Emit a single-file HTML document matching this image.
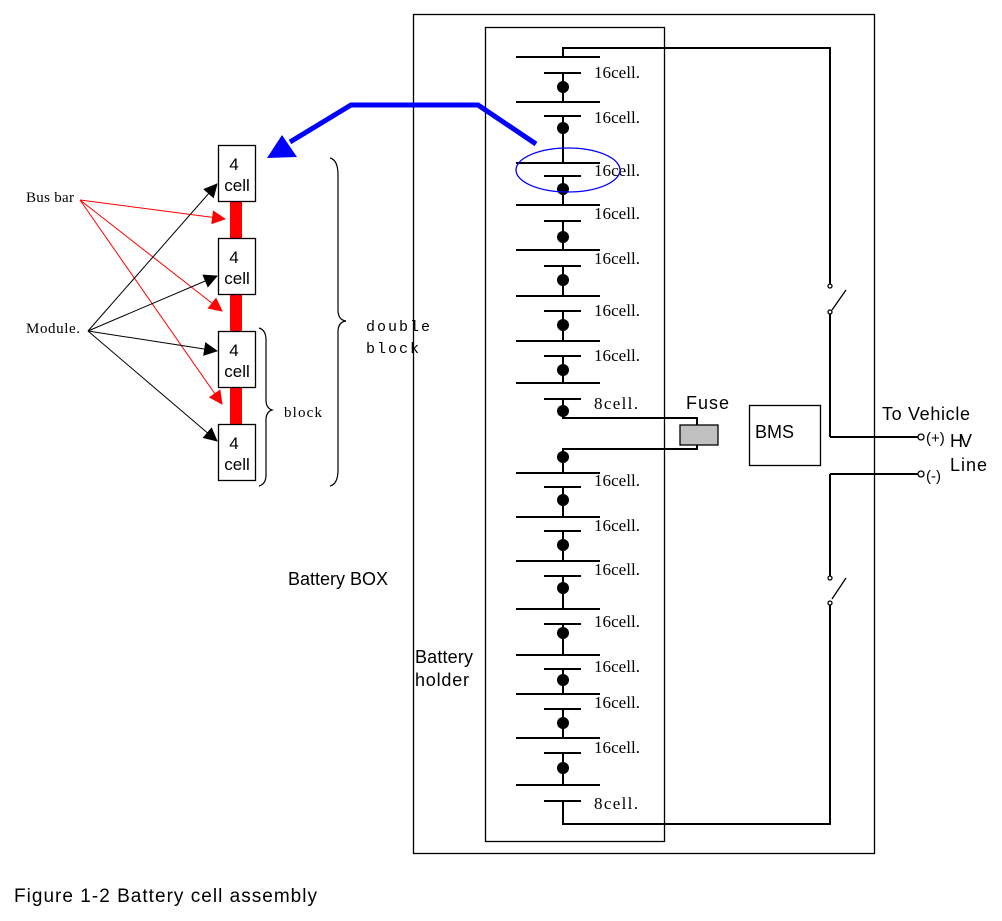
<!DOCTYPE html>
<html><head><style>
body{margin:0;background:#fff}
</style></head><body>
<svg width="1002" height="916" viewBox="0 0 1002 916" xmlns="http://www.w3.org/2000/svg" font-family="Liberation Serif,serif">
<defs>
<marker id="ab" markerWidth="14" markerHeight="14" refX="13" refY="7" orient="auto" markerUnits="userSpaceOnUse" viewBox="0 0 14 14"><path d="M0,0 L14,7 L0,14 z" fill="#000"/></marker>
<marker id="ar" markerWidth="14" markerHeight="14" refX="13" refY="7" orient="auto" markerUnits="userSpaceOnUse" viewBox="0 0 14 14"><path d="M0,0 L14,7 L0,14 z" fill="#f00"/></marker>
</defs>
<g fill="none" stroke="#000" stroke-width="1.3">
<rect x="413.5" y="14.5" width="461" height="839"/>
<rect x="485.5" y="27.5" width="179" height="814"/>
<rect x="749.5" y="405.5" width="71" height="60"/>
</g>
<g stroke="#000" stroke-width="2" fill="none">
<polyline points="563,57 563,48 830,48 830,288"/>
<line x1="830" y1="312" x2="830" y2="437"/>
<line x1="830" y1="437" x2="918" y2="437"/>
<line x1="830" y1="474" x2="918" y2="474"/>
<line x1="830" y1="474" x2="830" y2="578"/>
<polyline points="830,602 830,824 563,824 563,801"/>
<polyline points="563,411 563,418 697,418 697,425"/>
<polyline points="697,445 697,449 563,449 563,457"/>
</g>
<g stroke="#000" stroke-width="1.3" fill="none">
<line x1="832" y1="310" x2="846" y2="290"/>
<line x1="832" y1="599" x2="846" y2="578"/>
<circle cx="921" cy="437" r="3" fill="#fff"/>
<circle cx="921" cy="474" r="3" fill="#fff"/>
<circle cx="830" cy="286" r="2" fill="#fff"/><circle cx="830" cy="312" r="2" fill="#fff"/>
<circle cx="830" cy="578" r="2" fill="#fff"/><circle cx="830" cy="603" r="2" fill="#fff"/>
</g>
<rect x="680" y="425" width="38" height="20" fill="#c0c0c0" stroke="#000" stroke-width="1.3"/>
<g stroke="#000" stroke-width="2">
<line x1="516" y1="57" x2="600" y2="57"/><line x1="544" y1="73" x2="581" y2="73"/>
<line x1="516" y1="102" x2="600" y2="102"/><line x1="544" y1="116" x2="581" y2="116"/>
<line x1="516" y1="163" x2="600" y2="163"/><line x1="544" y1="176" x2="581" y2="176"/>
<line x1="516" y1="205" x2="600" y2="205"/><line x1="544" y1="221" x2="581" y2="221"/>
<line x1="516" y1="250" x2="600" y2="250"/><line x1="544" y1="266" x2="581" y2="266"/>
<line x1="516" y1="296" x2="600" y2="296"/><line x1="544" y1="311" x2="581" y2="311"/>
<line x1="516" y1="341" x2="600" y2="341"/><line x1="544" y1="356" x2="581" y2="356"/>
<line x1="516" y1="383" x2="600" y2="383"/><line x1="544" y1="399" x2="581" y2="399"/>
<line x1="516" y1="473" x2="600" y2="473"/><line x1="544" y1="487" x2="581" y2="487"/>
<line x1="516" y1="517" x2="600" y2="517"/><line x1="544" y1="531" x2="581" y2="531"/>
<line x1="516" y1="561" x2="600" y2="561"/><line x1="544" y1="576" x2="581" y2="576"/>
<line x1="516" y1="609" x2="600" y2="609"/><line x1="544" y1="624" x2="581" y2="624"/>
<line x1="516" y1="655" x2="600" y2="655"/><line x1="544" y1="669" x2="581" y2="669"/>
<line x1="516" y1="694" x2="600" y2="694"/><line x1="544" y1="709" x2="581" y2="709"/>
<line x1="516" y1="738" x2="600" y2="738"/><line x1="544" y1="753" x2="581" y2="753"/>
<line x1="516" y1="785" x2="600" y2="785"/><line x1="544" y1="801" x2="581" y2="801"/>
<line x1="563" y1="73" x2="563" y2="102"/><line x1="563" y1="116" x2="563" y2="163"/>
<line x1="563" y1="176" x2="563" y2="205"/><line x1="563" y1="221" x2="563" y2="250"/>
<line x1="563" y1="266" x2="563" y2="296"/><line x1="563" y1="311" x2="563" y2="341"/>
<line x1="563" y1="356" x2="563" y2="383"/><line x1="563" y1="399" x2="563" y2="411"/>
<line x1="563" y1="457" x2="563" y2="473"/><line x1="563" y1="487" x2="563" y2="517"/>
<line x1="563" y1="531" x2="563" y2="561"/><line x1="563" y1="576" x2="563" y2="609"/>
<line x1="563" y1="624" x2="563" y2="655"/><line x1="563" y1="669" x2="563" y2="694"/>
<line x1="563" y1="709" x2="563" y2="738"/><line x1="563" y1="753" x2="563" y2="785"/>
</g>
<g fill="#000">
<circle cx="563" cy="87" r="6"/><circle cx="563" cy="128" r="6"/><circle cx="563" cy="189" r="6"/><circle cx="563" cy="237" r="6"/>
<circle cx="563" cy="280" r="6"/><circle cx="563" cy="325" r="6"/><circle cx="563" cy="370" r="6"/><circle cx="563" cy="411" r="6"/>
<circle cx="563" cy="457" r="6"/><circle cx="563" cy="500" r="6"/><circle cx="563" cy="545" r="6"/><circle cx="563" cy="588" r="6"/>
<circle cx="563" cy="633" r="6"/><circle cx="563" cy="680" r="6"/><circle cx="563" cy="723" r="6"/><circle cx="563" cy="768" r="6"/>
</g>
<g font-size="17" fill="#000">
<text x="594" y="78" textLength="46">16cell.</text><text x="594" y="123" textLength="46">16cell.</text><text x="594" y="176" textLength="46">16cell.</text><text x="594" y="219" textLength="46">16cell.</text><text x="594" y="264" textLength="46">16cell.</text><text x="594" y="316" textLength="46">16cell.</text><text x="594" y="361" textLength="46">16cell.</text><text x="594" y="409" textLength="44">8cell.</text>
<text x="594" y="486" textLength="46">16cell.</text><text x="594" y="531" textLength="46">16cell.</text><text x="594" y="575" textLength="46">16cell.</text><text x="594" y="627" textLength="46">16cell.</text><text x="594" y="672" textLength="46">16cell.</text><text x="594" y="708" textLength="46">16cell.</text><text x="594" y="753" textLength="46">16cell.</text><text x="594" y="809" textLength="44">8cell.</text>
</g>
<g font-family="Liberation Sans,sans-serif" font-size="18" fill="#000">
<text x="686" y="409" textLength="43">Fuse</text>
<text x="755" y="438">BMS</text>
<text x="882" y="420" textLength="88">To Vehicle</text>
<text x="926" y="443" font-size="15">(+)</text>
<text x="950" y="447" textLength="22">HV</text>
<text x="950" y="471" textLength="37">Line</text>
<text x="926" y="481" font-size="15">(-)</text>
<text x="288" y="585" textLength="100">Battery BOX</text>
<text x="415" y="663" textLength="58">Battery</text>
<text x="415" y="686" textLength="54">holder</text>
<text x="14" y="902" font-size="19" textLength="303">Figure  1-2 Battery cell assembly</text>
</g>
<polyline points="536,144 478,105 351,105 290,142" fill="none" stroke="#00f" stroke-width="5"/>
<polygon points="267,158 282,135 297,157" fill="#00f"/>
<ellipse cx="568" cy="170" rx="52" ry="22" fill="none" stroke="#00f" stroke-width="1.3"/>
<rect x="230" y="201" width="12" height="223" fill="#f00"/>
<g fill="#fff" stroke="#000" stroke-width="1.3">
<rect x="218.5" y="145.5" width="37" height="56"/><rect x="218.5" y="238.5" width="37" height="56"/>
<rect x="218.5" y="331.5" width="37" height="56"/><rect x="218.5" y="424.5" width="37" height="56"/>
</g>
<g font-family="Liberation Sans,sans-serif" font-size="17" text-anchor="middle" fill="#000">
<text x="234" y="170">4</text><text x="237" y="191">cell</text>
<text x="234" y="263">4</text><text x="237" y="284">cell</text>
<text x="234" y="356">4</text><text x="237" y="377">cell</text>
<text x="234" y="449">4</text><text x="237" y="470">cell</text>
</g>
<g stroke="#f00" stroke-width="1">
<line x1="80" y1="200" x2="225" y2="219" marker-end="url(#ar)"/>
<line x1="80" y1="200" x2="222" y2="311" marker-end="url(#ar)"/>
<line x1="80" y1="200" x2="222" y2="404" marker-end="url(#ar)"/>
</g>
<g stroke="#000" stroke-width="1">
<line x1="88" y1="331" x2="217" y2="184" marker-end="url(#ab)"/>
<line x1="88" y1="331" x2="217" y2="276" marker-end="url(#ab)"/>
<line x1="88" y1="331" x2="217" y2="351" marker-end="url(#ab)"/>
<line x1="88" y1="331" x2="217" y2="441" marker-end="url(#ab)"/>
</g>
<g font-size="15" fill="#000">
<text x="26" y="202" textLength="48">Bus bar</text>
<text x="26" y="333" textLength="54">Module.</text>
<text x="284" y="417" textLength="38">block</text>
</g>
<g font-family="Liberation Mono,monospace" font-size="15" fill="#000"><text x="366" y="331" textLength="64">double</text><text x="366" y="353" textLength="53">block</text></g>
<g fill="none" stroke="#000" stroke-width="1.2">
<path d="M330,158 Q338,160 338,175 L338,310 Q338,320 346,321 Q338,322 338,332 L338,470 Q338,484 330,486"/>
<path d="M259,328 Q266,330 266,340 L266,400 Q266,408 272,410 Q266,412 266,420 L266,475 Q266,484 259,486"/>
</g>
</svg>
</body></html>
